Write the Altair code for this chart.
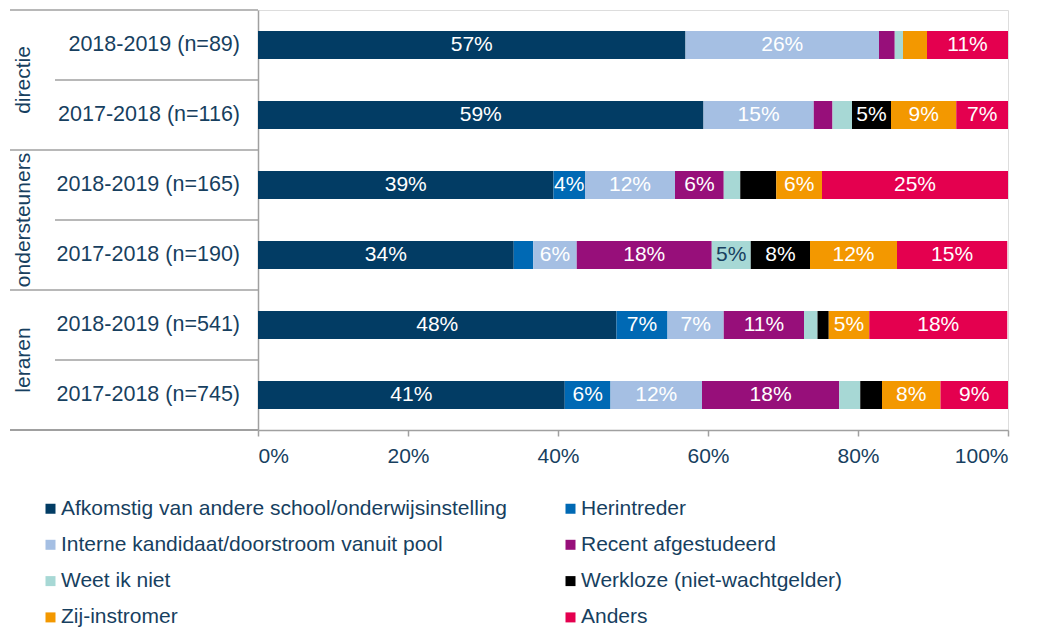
import altair as alt
import pandas as pd

FONT = "Liberation Sans"
TXT = "#173f5f"
GRID = "#a0a0a0"

groups = ["directie", "directie", "ondersteuners", "ondersteuners", "leraren", "leraren"]
periods = ["2018-2019 (n=89)", "2017-2018 (n=116)", "2018-2019 (n=165)",
           "2017-2018 (n=190)", "2018-2019 (n=541)", "2017-2018 (n=745)"]

categories = [
    "Afkomstig van andere school/onderwijsinstelling",
    "Herintreder",
    "Interne kandidaat/doorstroom vanuit pool",
    "Recent afgestudeerd",
    "Weet ik niet",
    "Werkloze (niet-wachtgelder)",
    "Zij-instromer",
    "Anders",
]
colors = ["#023c64", "#0069b4", "#a5bfe3", "#970f7a", "#a7d8d5", "#000000", "#f39800", "#e4004f"]

# values per category, rows top to bottom (percent)
afkomstig = [57.0, 59.4, 39.4, 34.1, 47.8, 40.9]
herintreder = [0.0, 0.0, 4.2, 2.6, 6.8, 6.1]
interne = [25.8, 14.7, 12.0, 5.8, 7.5, 12.2]
recent = [2.1, 2.5, 6.5, 18.0, 10.7, 18.3]
weet_niet = [1.1, 2.6, 2.2, 5.2, 1.8, 2.8]
werkloze = [0.0, 5.2, 4.8, 7.9, 1.5, 2.9]
zij_instromer = [3.2, 8.7, 6.1, 11.6, 5.4, 7.8]
anders = [10.8, 6.9, 24.8, 14.7, 18.4, 9.0]
series = [afkomstig, herintreder, interne, recent, weet_niet, werkloze, zij_instromer, anders]

# data labels shown in the bars (per row, per category)
bar_labels = [
    ["57%", "", "26%", "", "", "", "", "11%"],
    ["59%", "", "15%", "", "", "5%", "9%", "7%"],
    ["39%", "4%", "12%", "6%", "", "", "6%", "25%"],
    ["34%", "", "6%", "18%", "5%", "8%", "12%", "15%"],
    ["48%", "7%", "7%", "11%", "", "", "5%", "18%"],
    ["41%", "6%", "12%", "18%", "", "", "8%", "9%"],
]

x_ticks = [0, 20, 40, 60, 80, 100]

# legend is filled column by column: list it so it reads row by row
legend_order = [categories[i] for i in [0, 2, 4, 6, 1, 3, 5, 7]]

row_ids = [f"{g} | {p}" for g, p in zip(groups, periods)]

recs = []
for r, rid in enumerate(row_ids):
    for c, cat in enumerate(categories):
        recs.append({"row": rid, "cat": cat, "order": c, "value": series[c][r],
                     "label": bar_labels[r][c]})
df = pd.DataFrame(recs)

rows_df = pd.DataFrame({"row": row_ids, "period": periods, "group": groups})

group_names = ["directie", "ondersteuners", "leraren"]
group_first = [row_ids[0], row_ids[2], row_ids[4]]
groups_df = pd.DataFrame({"row": group_first, "group": group_names})
inner_df = pd.DataFrame({"row": [row_ids[1], row_ids[3], row_ids[5]]})

yscale = alt.Scale(type="band", domain=row_ids, paddingInner=0, paddingOuter=0)

base = alt.Chart(df).transform_stack(
    stack="value", groupby=["row"], as_=["v0", "v1"], sort=[alt.SortField("order")]
)

bars = base.mark_bar(size=28).encode(
    y=alt.Y("row:N", scale=yscale,
            axis=alt.Axis(title=None, labels=False, ticks=False, domain=True,
                          domainColor=GRID, domainWidth=1.5, grid=False)),
    x=alt.X("v0:Q", scale=alt.Scale(domain=[0, 100], nice=False),
            axis=alt.Axis(title=None, values=x_ticks, labelExpr="datum.value + '%'",
                          grid=False, domainColor=GRID, domainWidth=1.5,
                          tickColor=GRID, tickWidth=1.5, tickSize=6,
                          labelFontSize=21, labelColor=TXT, labelPadding=9,
                          labelFont=FONT)),
    x2="v1:Q",
    color=alt.Color("cat:N", scale=alt.Scale(domain=categories, range=colors),
                    legend=alt.Legend(title=None, orient="none", legendX=-218, legendY=488,
                                      values=legend_order,
                                      columns=2, columnPadding=53, rowPadding=14.3,
                                      symbolType="square", symbolSize=100,
                                      symbolStrokeWidth=0, labelFontSize=21,
                                      labelColor=TXT, labelFont=FONT, labelLimit=600,
                                      labelOffset=0, padding=0)),
)

texts = base.transform_filter("datum.label != ''").transform_calculate(
    mid="(datum.v0 + datum.v1) / 2"
).mark_text(fontSize=21, font=FONT, baseline="middle", align="center").encode(
    y=alt.Y("row:N", scale=yscale),
    x=alt.X("mid:Q"),
    text="label:N",
    color=alt.condition("datum.cat == 'Weet ik niet'", alt.value(TXT), alt.value("white")),
)

period_text = alt.Chart(rows_df).mark_text(
    align="right", baseline="middle", fontSize=21.5, font=FONT, color=TXT
).encode(
    y=alt.Y("row:N", scale=yscale),
    x=alt.value(-18),
    text="period:N",
)

group_text = alt.Chart(groups_df).mark_text(
    align="center", baseline="middle", angle=270, fontSize=21, font=FONT, color=TXT
).encode(
    y=alt.Y("row:N", scale=yscale, bandPosition=1),
    x=alt.value(-234),
    text="group:N",
)

group_rules = alt.Chart(groups_df).mark_rule(color=GRID, strokeWidth=1.5).encode(
    y=alt.Y("row:N", scale=yscale, bandPosition=0),
    x=alt.value(-248),
    x2=alt.value(0),
)

inner_rules = alt.Chart(inner_df).mark_rule(color=GRID, strokeWidth=1.5).encode(
    y=alt.Y("row:N", scale=yscale, bandPosition=0),
    x=alt.value(-203),
    x2=alt.value(0),
)

bottom_rule = alt.Chart(rows_df).mark_rule(color=GRID, strokeWidth=1.5).encode(
    y=alt.value(420),
    x=alt.value(-248),
    x2=alt.value(0),
)

chart = alt.layer(
    group_rules, inner_rules, bottom_rule, bars, texts, period_text, group_text
).properties(
    width=750, height=420,
    autosize=alt.AutoSizeParams(type="none"),
    padding={"left": 250, "top": 2, "right": 23, "bottom": 198},
).configure_view(stroke=None).configure(font=FONT)

chart.save("out.html", embed_options={"renderer": "svg", "actions": False})
